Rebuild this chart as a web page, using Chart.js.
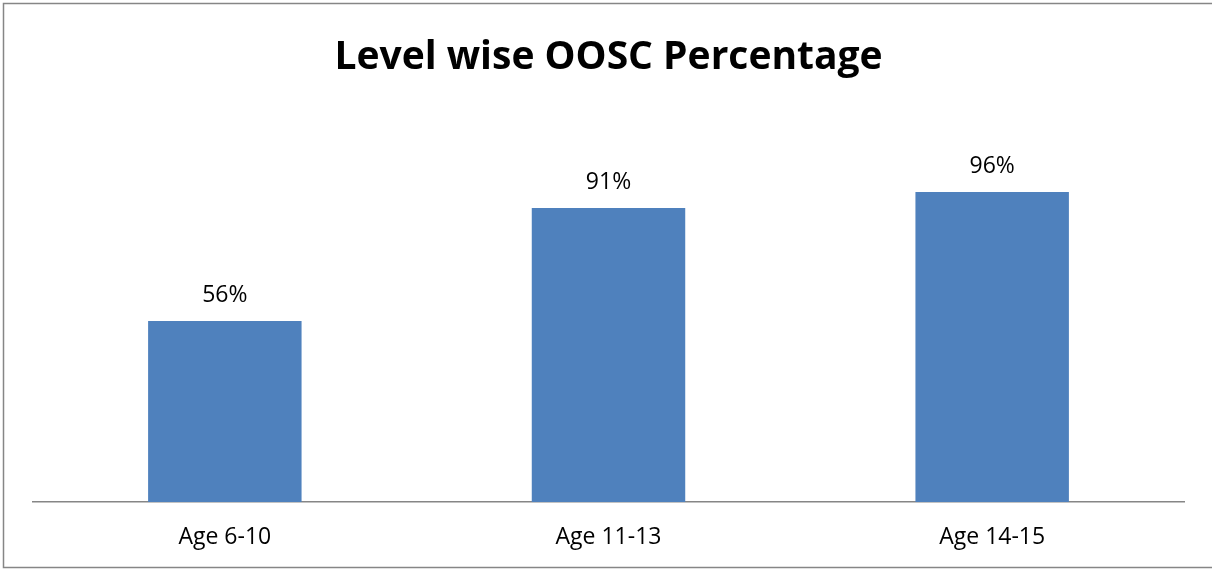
<!DOCTYPE html>
<html>
<head>
<meta charset="utf-8">
<script src="https://cdn.jsdelivr.net/npm/chart.js@4.4.1/dist/chart.umd.min.js"></script>
<style>
  html, body { margin: 0; padding: 0; background: #fff; }
  #wrap { width: 1212px; height: 569px; position: relative; }
</style>
</head>
<body>
<div id="wrap"><canvas id="chart"></canvas></div>
<script>
// chart data
const categories = ['Age 6-10', 'Age 11-13', 'Age 14-15'];
const ooscPercent = [56, 91, 96];

const FONT = "'Open Sans', sans-serif";

// value labels above each bar + outer frame
const labelsPlugin = {
    id: 'barLabels',
    afterDatasetsDraw(chart) {
        const ctx = chart.ctx;
        const meta = chart.getDatasetMeta(0);
        ctx.save();
        ctx.font = '23px ' + FONT;
        ctx.fillStyle = '#000';
        ctx.textAlign = 'center';
        ctx.textBaseline = 'alphabetic';
        meta.data.forEach((bar, i) => {
            ctx.fillText(ooscPercent[i] + '%', bar.x, bar.y - 19);
        });
        ctx.restore();
    },
    afterDraw(chart) {
        // frame runs off the right edge like in the source image
        const ctx = chart.ctx;
        ctx.save();
        ctx.strokeStyle = '#868686';
        ctx.lineWidth = 1.5;
        ctx.strokeRect(3.5, 3.5, 1212, 564);
        ctx.restore();
    }
};

new Chart(document.getElementById('chart'), {
    type: 'bar',
    data: {
        labels: categories,
        datasets: [{
            data: ooscPercent,
            backgroundColor: '#4F81BD',
            borderWidth: 0,
            categoryPercentage: 1.0,
            barPercentage: 0.4
        }]
    },
    options: {
        responsive: true,
        maintainAspectRatio: false,
        animation: false,
        layout: { padding: { left: 33, right: 28, top: 0, bottom: 0 } },
        plugins: {
            legend: { display: false },
            tooltip: { enabled: false },
            title: {
                display: true,
                text: 'Level wise OOSC Percentage',
                color: '#000',
                font: { family: FONT, size: 39, weight: 'bold', lineHeight: 1.2 },
                padding: { top: 34, bottom: 98.2 }
            }
        },
        scales: {
            x: {
                grid: { display: false, drawTicks: false },
                border: { display: true, color: '#868686', width: 1.5 },
                ticks: { color: '#000', font: { family: FONT, size: 23 }, padding: 22 },
                afterFit(scale) { scale.height = 67; }
            },
            y: {
                display: false,
                min: 0,
                max: 100
            }
        }
    },
    plugins: [labelsPlugin]
});
</script>
</body>
</html>
